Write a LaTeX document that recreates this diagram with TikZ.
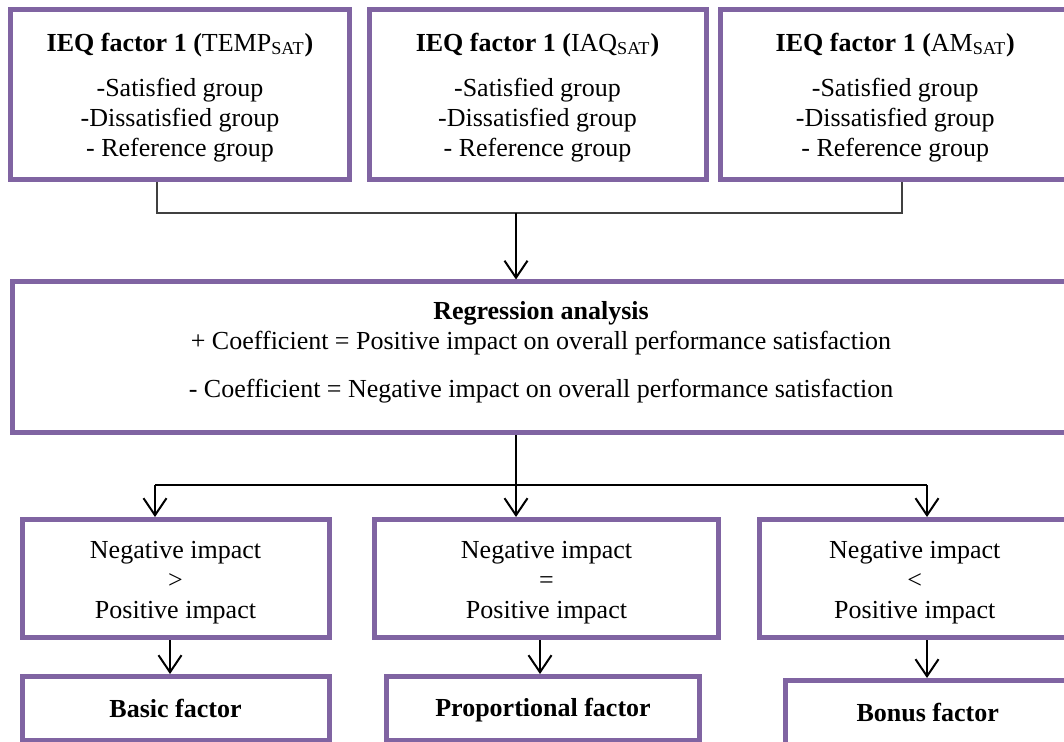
\documentclass[tikz,border=0pt]{standalone}
\usepackage{fontspec}
\setmainfont{Liberation Serif}
\usetikzlibrary{arrows.meta}
\definecolor{boxpurple}{HTML}{8064A2}
\definecolor{connGray}{HTML}{404040}
\tikzset{
  pbox/.style={draw=boxpurple, line width=2.5pt, align=center, inner sep=0pt,
    font=\fontsize{13}{15}\selectfont},
  plaintext/.style={align=center, inner sep=0pt, font=\fontsize{13}{15}\selectfont},
  arr/.style={draw=black, line width=1pt, -{Straight Barb[length=8.5pt,width=11.5pt]}},
  blackline/.style={draw=black, line width=1pt},
  grayline/.style={draw=connGray, line width=0.75pt},
}
\begin{document}
\begin{tikzpicture}[x=0.5pt, y=-0.5pt]
\useasboundingbox (0,0) rectangle (1064,742);

% top boxes
\node[pbox, minimum width=169.5pt, minimum height=85pt] (t1) at (180,94.5)
  {\rule{0pt}{12pt}\textbf{IEQ factor 1 (}TEMP\textsubscript{SAT}\textbf{)}\\[7.5pt]-Satisfied group\\-Dissatisfied group\\- Reference group};
\node[pbox, minimum width=168.5pt, minimum height=85pt] (t2) at (537.5,94.5)
  {\rule{0pt}{12pt}\textbf{IEQ factor 1 (}IAQ\textsubscript{SAT}\textbf{)}\\[7.5pt]-Satisfied group\\-Dissatisfied group\\- Reference group};
\node[pbox, minimum width=174.75pt, minimum height=85pt] (t3) at (895.25,94.5)
  {\rule{0pt}{12pt}\textbf{IEQ factor 1 (}AM\textsubscript{SAT}\textbf{)}\\[7.5pt]-Satisfied group\\-Dissatisfied group\\- Reference group};

% regression box
\node[pbox, minimum width=528.75pt, minimum height=75.5pt] (reg) at (541.25,357.5) {};
\node[plaintext] (regtext) at (541,352.5)
  {\textbf{Regression analysis}\\
   + Coefficient = Positive impact on overall performance satisfaction\\[9pt]
   - Coefficient = Negative impact on overall performance satisfaction};

% middle row
\node[pbox, minimum width=153.5pt, minimum height=59pt] (mA) at (175.5,578.5)
  {\rule{0pt}{13pt}Negative impact\\>\\Positive impact};
\node[pbox, minimum width=172pt, minimum height=59pt] (mB) at (546.5,578.5)
  {\rule{0pt}{13pt}Negative impact\\=\\Positive impact};
\node[pbox, minimum width=155.25pt, minimum height=59pt] (mC) at (914.75,578.5)
  {\rule{0pt}{13pt}Negative impact\\<\\Positive impact};

% bottom row
\node[pbox, minimum width=153.5pt, minimum height=32pt] (bA) at (175.5,708.5)
  {\textbf{Basic factor}};
\node[pbox, minimum width=156.5pt, minimum height=32pt] (bB) at (543,708.5)
  {\rule{0pt}{11pt}\textbf{Proportional factor}};
\node[pbox, minimum width=142.25pt, minimum height=32.25pt] (bC) at (927.75,712.75)
  {\textbf{Bonus factor}};

% top connector
\coordinate (j1) at (157,213);
\coordinate (j2) at (902,213);
\coordinate (jm) at (516,213);
\draw[grayline] (t1.south -| j1) -- (j1) -- (j2) -- (t3.south -| j2);
\draw[arr] (jm) -- (jm |- reg.north);

% distribution
\coordinate (d) at (516,485);
\coordinate (dl) at (155,485);
\coordinate (dr) at (927,485);
\draw[blackline] (reg.south -| d) -- (d);
\draw[blackline] (dl) -- (dr);
\draw[arr] (d) -- (d |- mB.north);
\draw[arr] (dl) -- (dl |- mA.north);
\draw[arr] (dr) -- (dr |- mC.north);

% to bottom boxes
\coordinate (aA) at (170,0);
\coordinate (aB) at (540,0);
\coordinate (aC) at (927,0);
\draw[arr] (mA.south -| aA) -- (bA.north -| aA);
\draw[arr] (mB.south -| aB) -- (bB.north -| aB);
\draw[arr] (mC.south -| aC) -- (bC.north -| aC);
\end{tikzpicture}
\end{document}
